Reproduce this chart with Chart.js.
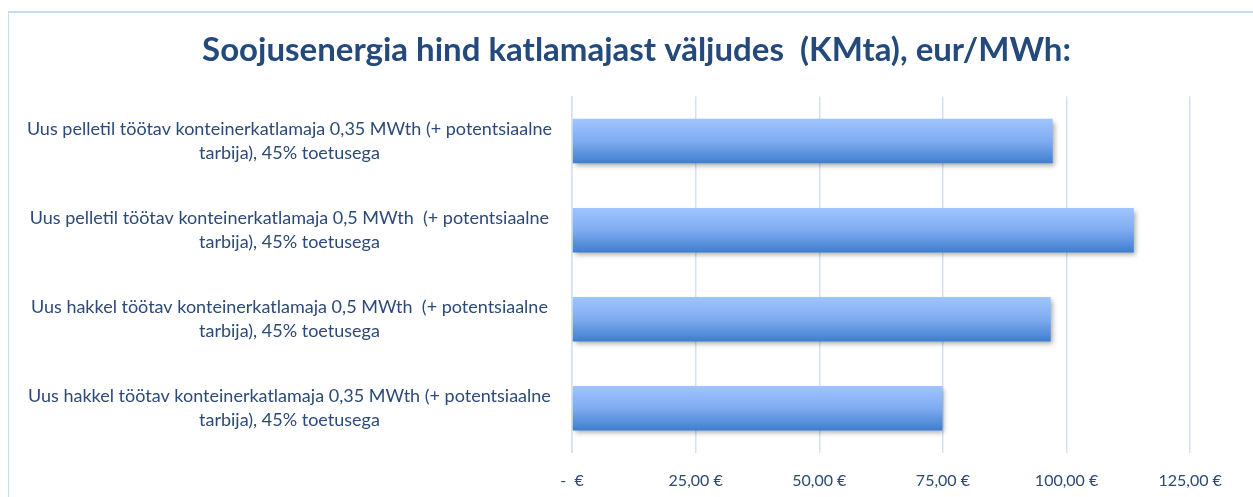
<!DOCTYPE html>
<html>
<head>
<meta charset="utf-8">
<script src="https://cdn.jsdelivr.net/npm/chart.js@4"></script>
<style>
  html, body { margin: 0; padding: 0; background: #fff; }
  #wrap { position: relative; width: 1253px; height: 497px; overflow: hidden; }
  #frame { position: absolute; left: 8px; top: 11px; width: 1260px; height: 500px;
           border-left: 1px solid #c9dbf2; border-top: 2px solid #c9dbf2; }
  canvas { position: absolute; left: 0; top: 0; }
</style>
</head>
<body>
<div id="wrap">
  <div id="frame"></div>
  <canvas id="bars" width="1253" height="497"></canvas>
</div>
<script>
var titleText = 'Soojusenergia hind katlamajast väljudes  (KMta), eur/MWh:';

var categories = [
  ['Uus pelletil töötav konteinerkatlamaja 0,35 MWth (+ potentsiaalne', 'tarbija), 45% toetusega'],
  ['Uus pelletil töötav konteinerkatlamaja 0,5 MWth  (+ potentsiaalne', 'tarbija), 45% toetusega'],
  ['Uus hakkel töötav konteinerkatlamaja 0,5 MWth  (+ potentsiaalne', 'tarbija), 45% toetusega'],
  ['Uus hakkel töötav konteinerkatlamaja 0,35 MWth (+ potentsiaalne', 'tarbija), 45% toetusega']
];

var prices = [97.2, 113.6, 96.8, 74.9];

var tickValues = [0, 25, 50, 75, 100, 125];

function euro(v) {
  if (v === 0) return '-  €';
  return v.toFixed(2).replace('.', ',') + ' €';
}

function barFill(c) {
  var chart = c.chart;
  if (!chart.chartArea) return '#7eaaf0';
  var y = chart.scales.y.getPixelForValue(c.dataIndex);
  var g = chart.ctx.createLinearGradient(0, y - 22, 0, y + 22);
  g.addColorStop(0, '#9fc5ff');
  g.addColorStop(0.5, '#7fabf0');
  g.addColorStop(1, '#3f7fcf');
  return g;
}

var shadow = {
  id: 'shadow',
  beforeDatasetsDraw: function(chart) {
    var ctx = chart.ctx;
    ctx.save();
    ctx.shadowColor = 'rgba(0,0,0,0.35)';
    ctx.shadowBlur = 5;
    ctx.shadowOffsetX = 2;
    ctx.shadowOffsetY = 3;
  },
  afterDatasetsDraw: function(chart) {
    chart.ctx.restore();
  }
};

var ctx = document.getElementById('bars').getContext('2d');
var myChart = new Chart(ctx, {
  type: 'bar',
  data: {
    labels: categories,
    datasets: [{
      data: prices,
      backgroundColor: barFill,
      borderWidth: 0,
      categoryPercentage: 1,
      barPercentage: 0.5
    }]
  },
  plugins: [shadow],
  options: {
    indexAxis: 'y',
    responsive: false,
    animation: false,
    layout: { padding: { left: 20, right: 0, top: 31, bottom: 4 } },
    plugins: {
      legend: { display: false },
      tooltip: { enabled: false },
      title: {
        display: true,
        text: titleText,
        color: '#244a7c',
        font: { family: 'Lato', size: 33, weight: 'bold' },
        padding: { top: 0, bottom: 26 }
      }
    },
    scales: {
      x: {
        min: 0,
        // extends past the 125 gridline to leave the empty right margin
        max: 137.7,
        afterBuildTicks: function(scale) {
          scale.ticks = tickValues.map(function(v) { return { value: v }; });
        },
        afterFit: function(scale) { scale.height = 40; },
        grid: { color: '#d3e1f4', lineWidth: 1.5, drawTicks: false },
        border: { display: false },
        ticks: {
          callback: function(v) { return euro(v); },
          color: '#2c4a78',
          font: { family: 'Lato', size: 16 },
          padding: 19,
          maxRotation: 0
        }
      },
      y: {
        grid: { display: false, drawTicks: false },
        border: { display: true, color: '#d3e1f4', width: 1.5 },
        afterFit: function(scale) { scale.width = 552; },
        ticks: {
          crossAlign: 'center',
          padding: 20,
          color: '#2c4a78',
          font: { family: 'Lato', size: 18, lineHeight: 1.35 }
        }
      }
    }
  }
});
</script>
</body>
</html>
